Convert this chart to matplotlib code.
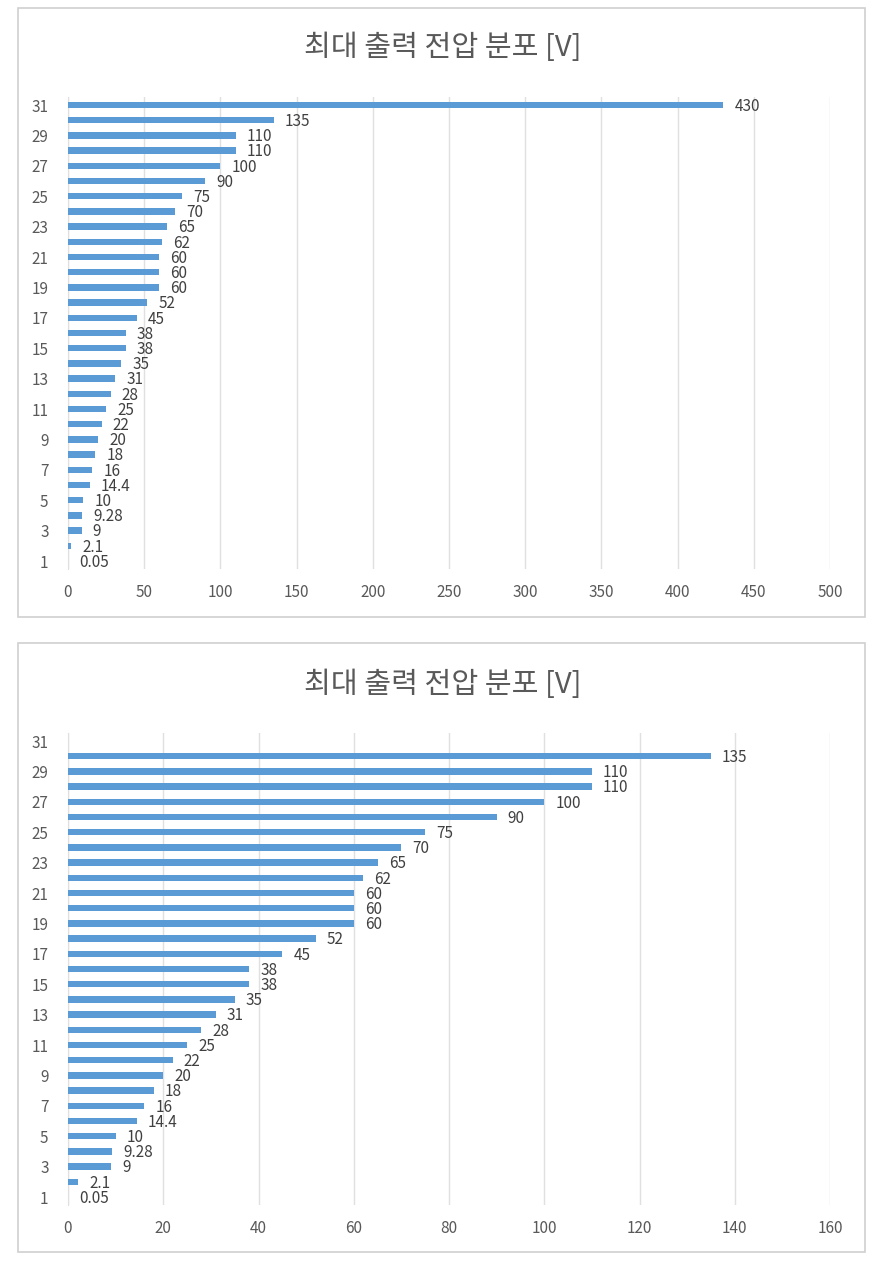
import matplotlib.pyplot as plt
from matplotlib.patches import Rectangle

plt.rcParams['font.family'] = ['Noto Sans CJK KR', 'DejaVu Sans']

categories = list(range(1, 32))
voltages = [0.05, 2.1, 9, 9.28, 10, 14.4, 16, 18, 20, 22, 25, 28, 31, 35, 38,
            38, 45, 52, 60, 60, 60, 62, 65, 70, 75, 90, 100, 110, 110, 135, 430]
labels = ['0.05', '2.1', '9', '9.28', '10', '14.4', '16', '18', '20', '22', '25',
          '28', '31', '35', '38', '38', '45', '52', '60', '60', '60', '62', '65',
          '70', '75', '90', '100', '110', '110', '135', '430']
title = '최대 출력 전압 분포 [V]'
xticks_top = [0, 50, 100, 150, 200, 250, 300, 350, 400, 450, 500]
xticks_bottom = [0, 20, 40, 60, 80, 100, 120, 140, 160]

BAR = '#5b9bd5'
GRID = '#e0e0e0'
TXT = '#595959'

W, H = 890, 1262
fig = plt.figure(figsize=(W / 100, H / 100), dpi=100)


def frame(x0, y0, x1, y1):
    fig.add_artist(Rectangle((x0 / W, 1 - y1 / H), (x1 - x0) / W, (y1 - y0) / H,
                             transform=fig.transFigure, fill=False,
                             edgecolor='#d0d0d0', linewidth=1.2))


def panel(ax_top, ax_bot, cats, vals, labs, xticks, title_y):
    ax = fig.add_axes([68 / W, 1 - ax_bot / H, (830 - 68) / W, (ax_bot - ax_top) / H])
    ax.barh(cats, vals, height=0.42, color=BAR, zorder=3)
    for c, v, l in zip(cats, vals, labs):
        ax.annotate(l, (v, c), xytext=(8, -1), textcoords='offset points',
                    va='center', ha='left', fontsize=11, color='#404040', zorder=4)
    ax.set_xlim(0, xticks[-1])
    ax.set_ylim(0.5, 31.5)
    ax.set_xticks(xticks)
    ax.set_yticks(list(range(1, 32, 2)))
    ax.grid(axis='x', color=GRID, linewidth=1, zorder=0)
    for s in ['top', 'right', 'bottom']:
        ax.spines[s].set_visible(False)
    ax.spines['left'].set_color(GRID)
    ax.tick_params(length=0, labelsize=11, labelcolor=TXT)
    ax.tick_params(axis='x', pad=11)
    ax.tick_params(axis='y', pad=14)
    fig.text(443 / W, 1 - title_y / H, title, ha='center', va='center',
             fontsize=21, color=TXT)
    return ax


frame(18, 8, 865, 617)
frame(18, 643, 865, 1252)

panel(97.4, 568.6, categories, voltages, labels, xticks_top, 48)
panel(733.4, 1204.6, categories[:-1], voltages[:-1], labels[:-1], xticks_bottom, 685)

plt.savefig('out.png', dpi=100)
